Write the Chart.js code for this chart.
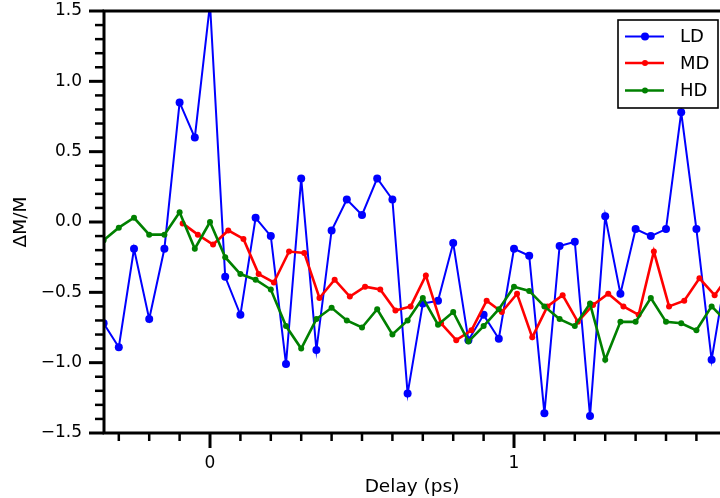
<!DOCTYPE html>
<html>
<head>
<meta charset="utf-8">
<script src="https://cdn.jsdelivr.net/npm/chart.js@4"></script>
<style>
html,body{margin:0;padding:0;background:#fff;}
canvas{display:block;}
</style>
</head>
<body>
<canvas id="c" width="720" height="498"></canvas>
<script>
// ---- data ----
const ldDelays = [-0.35,-0.30,-0.25,-0.20,-0.15,-0.10,-0.05,0.00,0.05,0.10,0.15,0.20,0.25,0.30,0.35,0.40,0.45,0.50,0.55,0.60,0.65,0.70,0.75,0.80,0.85,0.90,0.95,1.00,1.05,1.10,1.15,1.20,1.25,1.30,1.35,1.40,1.45,1.50,1.55,1.60,1.65,1.70];
const ldValues = [-0.72,-0.89,-0.19,-0.69,-0.19,0.85,0.60,1.55,-0.39,-0.66,0.03,-0.10,-1.01,0.31,-0.91,-0.06,0.16,0.05,0.31,0.16,-1.22,-0.58,-0.56,-0.15,-0.84,-0.66,-0.83,-0.19,-0.24,-1.36,-0.17,-0.14,-1.38,0.04,-0.51,-0.05,-0.10,-0.05,0.78,-0.05,-0.98,-0.33];

const mdDelays = [-0.09,-0.04,0.01,0.06,0.11,0.16,0.21,0.26,0.31,0.36,0.41,0.46,0.51,0.56,0.61,0.66,0.71,0.76,0.81,0.86,0.91,0.96,1.01,1.06,1.11,1.16,1.21,1.26,1.31,1.36,1.41,1.46,1.51,1.56,1.61,1.66,1.71];
const mdValues = [-0.01,-0.09,-0.16,-0.06,-0.12,-0.37,-0.43,-0.21,-0.22,-0.54,-0.41,-0.53,-0.46,-0.48,-0.63,-0.60,-0.38,-0.72,-0.84,-0.77,-0.56,-0.64,-0.51,-0.82,-0.60,-0.52,-0.71,-0.59,-0.51,-0.60,-0.66,-0.21,-0.60,-0.56,-0.40,-0.52,-0.37];

const hdDelays = [-0.35,-0.30,-0.25,-0.20,-0.15,-0.10,-0.05,0.00,0.05,0.10,0.15,0.20,0.25,0.30,0.35,0.40,0.45,0.50,0.55,0.60,0.65,0.70,0.75,0.80,0.85,0.90,0.95,1.00,1.05,1.10,1.15,1.20,1.25,1.30,1.35,1.40,1.45,1.50,1.55,1.60,1.65,1.70];
const hdValues = [-0.13,-0.04,0.03,-0.09,-0.09,0.07,-0.19,0.00,-0.25,-0.37,-0.41,-0.48,-0.74,-0.90,-0.69,-0.61,-0.70,-0.75,-0.62,-0.80,-0.70,-0.54,-0.73,-0.64,-0.85,-0.74,-0.62,-0.46,-0.49,-0.60,-0.69,-0.74,-0.58,-0.98,-0.71,-0.71,-0.54,-0.71,-0.72,-0.77,-0.60,-0.71];

const seriesNames = ['LD','MD','HD'];
const seriesColors = ['#0000ff','#ff0000','#008000'];
const xMajorTicks = [0, 1];
const yMajorTickLabels = ['−1.5','−1.0','−0.5','0.0','0.5','1.0','1.5'];

const FONT = "'DejaVu Sans', 'Liberation Sans', sans-serif";

function pts(xs, ys){ return xs.map((x,i)=>({x:x, y:ys[i]})); }

const isMajorX = v => Math.abs(v - Math.round(v)) < 1e-6;
const isMajorY = v => Math.abs(Math.round(v*10)) % 5 === 0;

function zeroPad(s){ s.paddingTop = 0; s.paddingBottom = 0; s.paddingLeft = 0; s.paddingRight = 0; }

const axesPlugin = {
  id: 'mplAxes',
  afterDatasetsDraw(chart){
    const {ctx, chartArea:{left,top,right,bottom}, scales:{x,y}} = chart;
    ctx.save();
    ctx.strokeStyle = '#000';
    ctx.lineCap = 'butt';
    // x ticks
    x.ticks.forEach(t => {
      const px = x.getPixelForValue(t.value);
      if (px < left - 0.5 || px > right + 0.5) return;
      const major = isMajorX(t.value);
      ctx.lineWidth = major ? 3 : 2.5;
      ctx.beginPath(); ctx.moveTo(px, bottom); ctx.lineTo(px, bottom + (major ? 15 : 8)); ctx.stroke();
    });
    // y ticks
    y.ticks.forEach(t => {
      const py = y.getPixelForValue(t.value);
      const major = isMajorY(t.value);
      ctx.lineWidth = major ? 3 : 2.5;
      ctx.beginPath(); ctx.moveTo(left, py); ctx.lineTo(left - (major ? 15 : 9), py); ctx.stroke();
    });
    // spines
    ctx.lineWidth = 3;
    ctx.beginPath();
    ctx.moveTo(right + 2, top); ctx.lineTo(left, top);
    ctx.lineTo(left, bottom); ctx.lineTo(right + 2, bottom);
    ctx.stroke();

    // legend
    const bx = right - 102, by = top + 9, bw = 100, bh = 88;
    ctx.fillStyle = '#fff';
    ctx.fillRect(bx, by, bw, bh);
    ctx.lineWidth = 1.6;
    ctx.strokeStyle = '#000';
    ctx.strokeRect(bx, by, bw, bh);
    const rows = [by + 16.5, by + 43, by + 70.5];
    const radii = [4, 3, 3];
    const widths = [2, 2.6, 2.6];
    seriesNames.forEach((name, i) => {
      const ry = rows[i];
      ctx.strokeStyle = seriesColors[i];
      ctx.lineWidth = widths[i];
      ctx.beginPath(); ctx.moveTo(bx + 7, ry); ctx.lineTo(bx + 46, ry); ctx.stroke();
      ctx.fillStyle = seriesColors[i];
      ctx.beginPath(); ctx.arc(bx + 27, ry, radii[i], 0, Math.PI*2); ctx.fill();
      ctx.fillStyle = '#000';
      ctx.font = '18px ' + FONT;
      ctx.textAlign = 'left';
      ctx.textBaseline = 'middle';
      ctx.fillText(name, bx + 62, ry + 1);
    });
    ctx.restore();
  }
};

new Chart(document.getElementById('c'), {
  type: 'line',
  data: {
    datasets: [
      { label: seriesNames[0], data: pts(ldDelays, ldValues), borderColor: seriesColors[0], backgroundColor: seriesColors[0],
        borderWidth: 2, pointRadius: 4, pointBorderWidth: 0, pointHoverRadius: 4, tension: 0, order: 2 },
      { label: seriesNames[1], data: pts(mdDelays, mdValues), borderColor: seriesColors[1], backgroundColor: seriesColors[1],
        borderWidth: 2.6, pointRadius: 3, pointBorderWidth: 0, pointHoverRadius: 3, tension: 0, order: 1 },
      { label: seriesNames[2], data: pts(hdDelays, hdValues), borderColor: seriesColors[2], backgroundColor: seriesColors[2],
        borderWidth: 2.6, pointRadius: 3, pointBorderWidth: 0, pointHoverRadius: 3, tension: 0, order: 0 }
    ]
  },
  options: {
    responsive: false,
    animation: false,
    devicePixelRatio: 1,
    layout: { autoPadding: false, padding: { left: 0, top: 11, right: 0, bottom: 0 } },
    plugins: { legend: { display: false }, tooltip: { enabled: false } },
    scales: {
      x: {
        type: 'linear',
        min: -0.3487,
        max: 1.6776,
        grid: { display: false, drawTicks: false },
        border: { display: false },
        ticks: {
          stepSize: 0.1, includeBounds: false, autoSkip: false, maxRotation: 0, padding: 20,
          color: '#000', font: { family: FONT, size: 17 },
          callback: v => (isMajorX(v) && xMajorTicks.includes(Math.round(v))) ? String(Math.round(v)) : ''
        },
        title: { display: true, text: 'Delay (ps)', color: '#000', font: { family: FONT, size: 18.5 }, padding: { top: 0, bottom: 0 } },
        afterFit: s => { s.height = 65; zeroPad(s); }
      },
      y: {
        min: -1.5,
        max: 1.5,
        grid: { display: false, drawTicks: false },
        border: { display: false },
        ticks: {
          stepSize: 0.1, includeBounds: false, autoSkip: false, padding: 22,
          color: '#000', font: { family: FONT, size: 17 },
          callback: v => isMajorY(v) ? yMajorTickLabels[Math.round((v + 1.5) * 2)] : ''
        },
        title: { display: true, text: 'ΔM/M', color: '#000', font: { family: FONT, size: 18.5 }, padding: { top: 10, bottom: 0 } },
        afterFit: s => { s.width = 104; zeroPad(s); }
      }
    }
  },
  plugins: [axesPlugin]
});
</script>
</body>
</html>
